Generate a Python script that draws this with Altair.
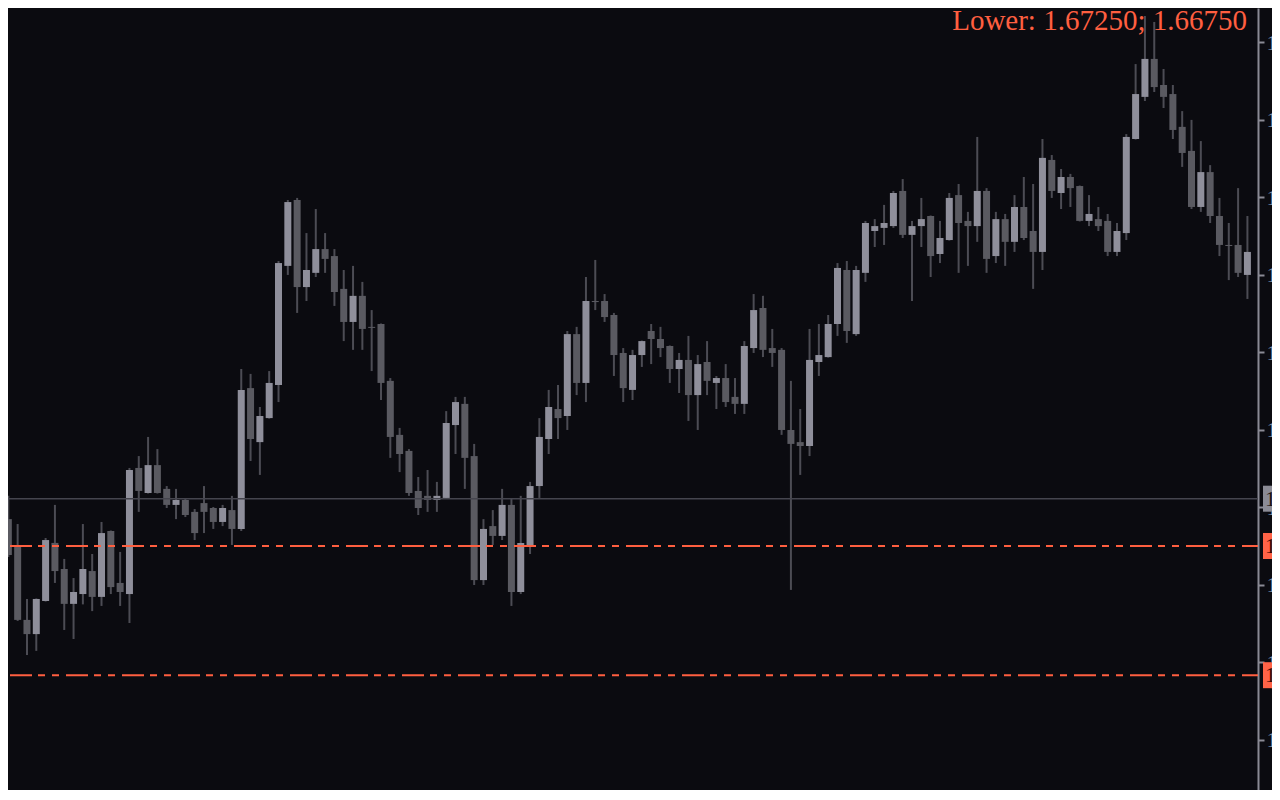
import altair as alt
import pandas as pd

opens = [1.67354, 1.67250, 1.66964, 1.66909, 1.67037, 1.67262, 1.67161, 1.67026, 1.67064, 1.67153,
         1.67053, 1.67308, 1.67107, 1.67064, 1.67552, 1.67455, 1.67563, 1.67471, 1.67409, 1.67428,
         1.67382, 1.67416, 1.67397, 1.67343, 1.67389, 1.67316, 1.67861, 1.67652, 1.67745, 1.67873,
         1.68334, 1.68589, 1.68252, 1.68307, 1.68399, 1.68372, 1.68245, 1.68117, 1.68218, 1.68098,
         1.68109, 1.67889, 1.67680, 1.67618, 1.67463, 1.67444, 1.67428, 1.67436, 1.67718, 1.67800,
         1.67598, 1.67118, 1.67327, 1.67289, 1.67409, 1.67072, 1.67246, 1.67482, 1.67664, 1.67780,
         1.67753, 1.68070, 1.67881, 1.68198, 1.68198, 1.68144, 1.67997, 1.67854, 1.67989, 1.68082,
         1.68051, 1.68024, 1.67935, 1.67970, 1.67834, 1.67962, 1.67881, 1.67900, 1.67827, 1.67800,
         1.68016, 1.68171, 1.68016, 1.68009, 1.67699, 1.67652, 1.67637, 1.67962, 1.67981, 1.68109,
         1.68318, 1.68070, 1.68307, 1.68469, 1.68481, 1.68488, 1.68624, 1.68454, 1.68488, 1.68527,
         1.68380, 1.68434, 1.68608, 1.68508, 1.68488, 1.68624, 1.68372, 1.68515, 1.68427, 1.68562,
         1.68469, 1.68388, 1.68744, 1.68616, 1.68678, 1.68643, 1.68508, 1.68515, 1.68508, 1.68388,
         1.68461, 1.68825, 1.68988, 1.69135, 1.69034, 1.68999, 1.68872, 1.68779, 1.68562, 1.68697,
         1.68527, 1.68415, 1.68415, 1.68299]

highs = [1.67444, 1.67335, 1.67045, 1.67047, 1.67281, 1.67409, 1.67200, 1.67126, 1.67335, 1.67219,
         1.67343, 1.67310, 1.67227, 1.67552, 1.67598, 1.67672, 1.67625, 1.67482, 1.67471, 1.67432,
         1.67393, 1.67482, 1.67401, 1.67409, 1.67444, 1.67935, 1.67916, 1.67788, 1.67927, 1.68353,
         1.68589, 1.68597, 1.68461, 1.68554, 1.68461, 1.68399, 1.68318, 1.68334, 1.68272, 1.68163,
         1.68111, 1.67900, 1.67707, 1.67625, 1.67517, 1.67544, 1.67498, 1.67772, 1.67827, 1.67827,
         1.67645, 1.67354, 1.67389, 1.67471, 1.67432, 1.67444, 1.67498, 1.67745, 1.67854, 1.67873,
         1.68082, 1.68098, 1.68291, 1.68357, 1.68225, 1.68152, 1.68016, 1.68009, 1.68045, 1.68109,
         1.68098, 1.68026, 1.67997, 1.68063, 1.67989, 1.68043, 1.67908, 1.67954, 1.67900, 1.68043,
         1.68225, 1.68218, 1.68090, 1.68016, 1.67889, 1.67780, 1.68090, 1.68109, 1.68144, 1.68345,
         1.68353, 1.68334, 1.68508, 1.68515, 1.68570, 1.68624, 1.68670, 1.68508, 1.68597, 1.68529,
         1.68508, 1.68616, 1.68651, 1.68543, 1.68833, 1.68635, 1.68543, 1.68535, 1.68608, 1.68678,
         1.68651, 1.68825, 1.68763, 1.68709, 1.68690, 1.68645, 1.68608, 1.68562, 1.68535, 1.68500,
         1.68844, 1.69115, 1.69301, 1.69278, 1.69096, 1.69034, 1.68933, 1.68899, 1.68817, 1.68724,
         1.68597, 1.68500, 1.68635, 1.68527]

lows = [1.67207, 1.66960, 1.66828, 1.66844, 1.67035, 1.67107, 1.66925, 1.66890, 1.67024, 1.66998,
        1.67018, 1.67064, 1.67018, 1.66952, 1.67382, 1.67453, 1.67453, 1.67397, 1.67354, 1.67362,
        1.67273, 1.67300, 1.67316, 1.67327, 1.67254, 1.67308, 1.67579, 1.67525, 1.67743, 1.67807,
        1.68299, 1.68152, 1.68198, 1.68291, 1.68307, 1.68179, 1.68043, 1.68009, 1.68009, 1.67927,
        1.67815, 1.67591, 1.67536, 1.67444, 1.67370, 1.67382, 1.67382, 1.67434, 1.67606, 1.67471,
        1.67099, 1.67099, 1.67254, 1.67273, 1.67018, 1.67064, 1.67219, 1.67436, 1.67606, 1.67664,
        1.67699, 1.67834, 1.67807, 1.68163, 1.68117, 1.67908, 1.67807, 1.67815, 1.67943, 1.67954,
        1.67981, 1.67881, 1.67842, 1.67734, 1.67699, 1.67834, 1.67780, 1.67788, 1.67761, 1.67761,
        1.67997, 1.67981, 1.67943, 1.67680, 1.67080, 1.67525, 1.67598, 1.67908, 1.67979, 1.68063,
        1.68036, 1.68063, 1.68272, 1.68407, 1.68415, 1.68481, 1.68442, 1.68198, 1.68407, 1.68291,
        1.68345, 1.68432, 1.68307, 1.68334, 1.68427, 1.68307, 1.68345, 1.68334, 1.68388, 1.68434,
        1.68245, 1.68318, 1.68597, 1.68554, 1.68562, 1.68506, 1.68488, 1.68469, 1.68372, 1.68372,
        1.68434, 1.68823, 1.68972, 1.69007, 1.68945, 1.68825, 1.68717, 1.68554, 1.68543, 1.68500,
        1.68372, 1.68279, 1.68291, 1.68206]

closes = [1.67215, 1.66964, 1.66909, 1.67045, 1.67273, 1.67153, 1.67026, 1.67072, 1.67161, 1.67053,
          1.67300, 1.67091, 1.67072, 1.67544, 1.67463, 1.67563, 1.67455, 1.67409, 1.67428, 1.67370,
          1.67300, 1.67382, 1.67343, 1.67397, 1.67316, 1.67854, 1.67664, 1.67753, 1.67881, 1.68345,
          1.68581, 1.68252, 1.68318, 1.68399, 1.68361, 1.68233, 1.68117, 1.68218, 1.68090, 1.68094,
          1.67881, 1.67672, 1.67606, 1.67455, 1.67397, 1.67428, 1.67444, 1.67726, 1.67807, 1.67591,
          1.67118, 1.67316, 1.67289, 1.67409, 1.67072, 1.67262, 1.67482, 1.67672, 1.67788, 1.67745,
          1.68070, 1.67881, 1.68198, 1.68194, 1.68136, 1.67989, 1.67861, 1.67989, 1.68043, 1.68051,
          1.68016, 1.67935, 1.67970, 1.67834, 1.67954, 1.67889, 1.67900, 1.67807, 1.67800, 1.68024,
          1.68163, 1.68009, 1.67997, 1.67699, 1.67645, 1.67637, 1.67970, 1.67989, 1.68109, 1.68326,
          1.68082, 1.68318, 1.68500, 1.68488, 1.68500, 1.68616, 1.68454, 1.68488, 1.68515, 1.68372,
          1.68442, 1.68597, 1.68500, 1.68488, 1.68624, 1.68361, 1.68515, 1.68427, 1.68562, 1.68442,
          1.68388, 1.68752, 1.68624, 1.68678, 1.68635, 1.68508, 1.68535, 1.68488, 1.68388, 1.68469,
          1.68833, 1.68999, 1.69135, 1.69026, 1.68988, 1.68860, 1.68771, 1.68562, 1.68697, 1.68527,
          1.68415, 1.68411, 1.68307, 1.68388]

level_prices = [1.67250, 1.66750]
current_price = 1.67433
title_text = "Lower: 1.67250; 1.66750"
tick_values = [1.665, 1.668, 1.671, 1.674, 1.677, 1.680, 1.683, 1.686, 1.689, 1.692]

BG = "#0b0b10"
ORANGE = "#ff5f40"
TAG_ORANGE = "#ff6347"
TAG_GRAY = "#8b8b95"
UP = "#8f8f9b"
DOWN = "#5a5a61"
WICK = "#4c4c54"
AXIS = "#8a8a94"

df = pd.DataFrame({"i": list(range(len(opens))), "open": opens, "high": highs,
                   "low": lows, "close": closes})
df["dir"] = ["up" if c > o else "down" for o, c in zip(opens, closes)]

xscale = alt.Scale(domain=[0.5, 133.6], nice=False, zero=False)
yscale = alt.Scale(domain=[1.663057, 1.69332], nice=False, zero=False)

yaxis = alt.Axis(orient="right", values=tick_values, format=".5f", title=None, grid=False,
                 labelFont="Liberation Serif", labelFontSize=22, labelColor="#7f98b0",
                 labelAlign="left", labelBaseline="middle", labelPadding=2,
                 labelOverlap=False, labelFlush=False,
                 domainColor=AXIS, domainWidth=2, tickColor=AXIS,
                 tickWidth=2, tickSize=6, zindex=0)

Y = lambda field: alt.Y(field, scale=yscale, axis=yaxis)

base = alt.Chart(df)
wicks = base.mark_rule(color=WICK, strokeWidth=2).encode(
    x=alt.X("i:Q", scale=xscale, axis=None),
    y=Y("low:Q"),
    y2="high:Q",
)
bodies = base.mark_bar(width=7).encode(
    x=alt.X("i:Q", scale=xscale, axis=None),
    y=Y("open:Q"),
    y2="close:Q",
    color=alt.Color("dir:N", scale=alt.Scale(domain=["up", "down"], range=[UP, DOWN]), legend=None),
)

cur_df = pd.DataFrame({"price": [current_price], "label": [f"{current_price:.5f}"]})
lvl_df = pd.DataFrame({"price": level_prices, "label": [f"{p:.5f}" for p in level_prices]})

cur_line = alt.Chart(cur_df).mark_rule(color="#45454e", strokeWidth=1.5).encode(y=Y("price:Q"))
lvl_lines = alt.Chart(lvl_df).mark_rule(
    color=ORANGE, strokeWidth=2, strokeDash=[22, 7, 7, 7, 7, 6], strokeDashOffset=6
).encode(y=Y("price:Q"))


def tag_layers(data, fill, text_color):
    box = alt.Chart(data).mark_rect(yOffset=-13, y2Offset=13, clip=False, color=fill).encode(
        x=alt.value(1255), x2=alt.value(1280), y=Y("price:Q"), y2="price:Q")
    txt = alt.Chart(data).mark_text(
        align="left", baseline="middle", font="Liberation Serif", fontSize=22,
        color=text_color, clip=False
    ).encode(x=alt.value(1257), y=Y("price:Q"), text="label:N")
    return [box, txt]


title_df = pd.DataFrame({"t": [title_text]})
title = alt.Chart(title_df).mark_text(
    align="right", baseline="alphabetic", font="Liberation Serif", fontSize=29, color=ORANGE
).encode(x=alt.value(1239), y=alt.value(22), text="t:N")

layers = [wicks, bodies, cur_line, lvl_lines] + tag_layers(cur_df, TAG_GRAY, "#1c1414") \
    + tag_layers(lvl_df, TAG_ORANGE, "#3a0a06") + [title]

chart = alt.layer(*layers).properties(
    width=1250, height=782,
    padding={"left": 0, "top": 0, "right": 14, "bottom": 0},
    autosize=alt.AutoSizeParams(type="none"),
    background=BG,
).configure_view(strokeWidth=0)

chart.save("out.html", embed_options={"renderer": "svg", "actions": False})
